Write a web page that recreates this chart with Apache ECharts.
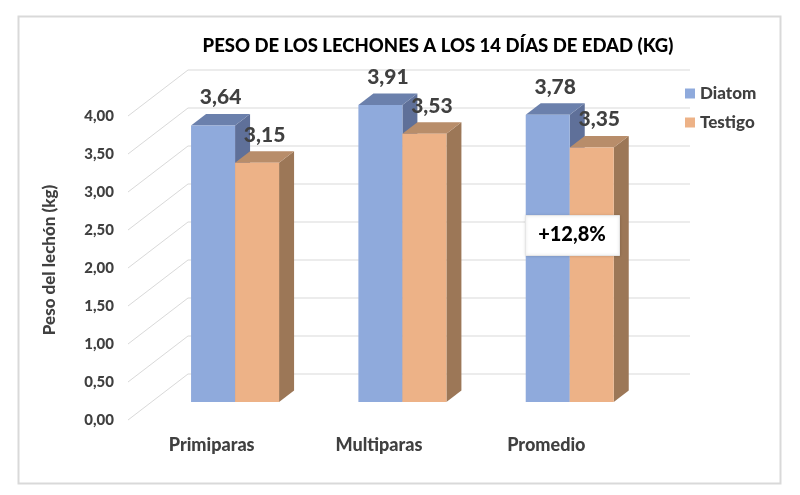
<!DOCTYPE html>
<html>
<head>
<meta charset="utf-8">
<script src="https://cdn.jsdelivr.net/npm/echarts@6/dist/echarts.min.js"></script>
<style>
  html, body { margin: 0; padding: 0; background: #fff; }
  #chart { width: 800px; height: 495px; }
</style>
</head>
<body>
<div id="chart"></div>
<script>
const categories = ['Primiparas', 'Multiparas', 'Promedio'];
const diatom = [3.64, 3.91, 3.78];
const testigo = [3.15, 3.53, 3.35];
const yTicks = [0, 0.5, 1, 1.5, 2, 2.5, 3, 3.5, 4];
const note = '+12,8%';

// oblique depth of the chart box, and where the bars sit inside it
const DEPTH = [60, -46];
const BAR_Z = 0.39, BAR_D = 0.25;
const BAR_W = 0.263; // share of category band per bar

const fmt = v => v.toFixed(2).replace('.', ',');
const font = 'Lato, "Open Sans", sans-serif';
const W = 900;
const txt = '#404040';

function gridItem(params, api) {
  const cs = params.coordSys;
  const y = api.coord([0, api.value(0)])[1];
  return {
    type: 'polyline',
    shape: { points: [[cs.x, y], [cs.x + DEPTH[0], y + DEPTH[1]], [cs.x + cs.width + DEPTH[0], y + DEPTH[1]]] },
    style: { stroke: '#d9d9d9', lineWidth: 1, fill: null },
    silent: true
  };
}

function barItem(slot, c) {
  return function (params, api) {
    const i = api.value(0), v = api.value(1);
    const band = api.size([1, 0])[0];
    const bw = band * BAR_W;
    const p0 = api.coord([i, 0]), p1 = api.coord([i, v]);
    const ox = DEPTH[0] * BAR_Z, oy = DEPTH[1] * BAR_Z;
    const dx = DEPTH[0] * BAR_D, dy = DEPTH[1] * BAR_D;
    const x0 = p0[0] + ox - bw + slot * bw, x1 = x0 + bw;
    const yb = p0[1] + oy, yt = p1[1] + oy;
    return {
      type: 'group',
      children: [
        { type: 'polygon', shape: { points: [[x1, yt], [x1 + dx, yt + dy], [x1 + dx, yb + dy], [x1, yb]] }, style: { fill: c.side } },
        { type: 'polygon', shape: { points: [[x0, yt], [x1, yt], [x1 + dx, yt + dy], [x0 + dx, yt + dy]] }, style: { fill: c.top } },
        { type: 'rect', shape: { x: x0, y: yt, width: bw, height: yb - yt }, style: { fill: c.front } },
        { type: 'text', x: (x0 + x1 + dx) / 2, y: yt + dy / 2 - 22,
          style: { text: fmt(v), fill: txt, font: W + ' 21px ' + font, align: 'center', verticalAlign: 'middle' } }
      ]
    };
  };
}

const chart = echarts.init(document.getElementById('chart'));
chart.setOption({
  backgroundColor: '#fff',
  animation: false,
  title: {
    text: 'PESO DE LOS LECHONES A LOS 14 DÍAS DE EDAD (KG)',
    left: 433, top: 32, textAlign: 'center',
    textStyle: { fontFamily: font, fontWeight: W, fontSize: 18.5, color: '#000' }
  },
  legend: {
    data: ['Diatom', 'Testigo'],
    orient: 'vertical', left: 680, top: 80, itemGap: 12,
    icon: 'rect', itemWidth: 10, itemHeight: 10,
    textStyle: { fontFamily: font, fontWeight: W, fontSize: 17, color: txt }
  },
  grid: { left: 128, top: 116, width: 502, height: 304 },
  xAxis: {
    type: 'category', data: categories,
    axisLine: { show: false }, axisTick: { show: false }, splitLine: { show: false },
    axisLabel: { margin: 16, fontFamily: font, fontWeight: W, fontSize: 18, color: txt }
  },
  yAxis: {
    type: 'value', min: 0, max: 4, interval: 0.5,
    axisLine: { show: false }, axisTick: { show: false }, splitLine: { show: false },
    axisLabel: { margin: 14, formatter: fmt, fontFamily: font, fontWeight: W, fontSize: 15, color: txt }
  },
  series: [
    { type: 'custom', renderItem: gridItem, data: yTicks.map(v => [v]), encode: { y: 0 }, silent: true, z: 1 },
    { name: 'Diatom', type: 'custom', z: 2, itemStyle: { color: '#8FAADC' },
      renderItem: barItem(0, { front: '#8FAADC', top: '#6B80AC', side: '#5F7099' }),
      data: diatom.map((v, i) => [i, v]), encode: { x: 0, y: 1 } },
    { name: 'Testigo', type: 'custom', z: 3, itemStyle: { color: '#EDB287' },
      renderItem: barItem(1, { front: '#EDB287', top: '#B88D6A', side: '#9C7757' }),
      data: testigo.map((v, i) => [i, v]), encode: { x: 0, y: 1 } }
  ],
  graphic: [
    { type: 'rect', left: 16, top: 14, shape: { width: 762, height: 467 }, style: { fill: null, stroke: '#d9d9d9', lineWidth: 2 }, silent: true },
    { type: 'text', x: 50, y: 260, rotation: Math.PI / 2,
      style: { text: 'Peso del lechón (kg)', font: W + ' 17px ' + font, fill: txt, align: 'center', verticalAlign: 'middle' } },
    { type: 'rect', left: 525, top: 215, z: 10, shape: { width: 94, height: 40 },
      style: { fill: '#fff', stroke: '#e6e6e6', lineWidth: 1, shadowBlur: 3, shadowColor: 'rgba(0,0,0,0.15)' } },
    { type: 'text', x: 572, y: 235, z: 11,
      style: { text: note, font: W + ' 20px ' + font, fill: '#000', align: 'center', verticalAlign: 'middle' } }
  ]
});
window.addEventListener('resize', () => chart.resize());
</script>
</body>
</html>
